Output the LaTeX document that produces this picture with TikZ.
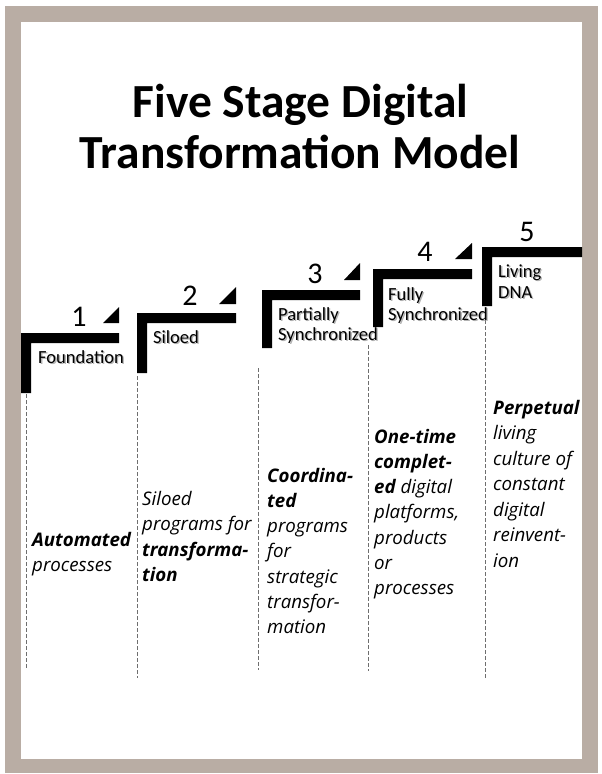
\documentclass[tikz,border=0pt]{standalone}
\usepackage{fontspec}
\newfontfamily\calib{Carlito}
\newfontfamily\opens{Open Sans}
\definecolor{framegray}{HTML}{B9ADA4}
\definecolor{guidegray}{HTML}{6E6E6E}
\tikzset{
  stepbar/.style={fill=black},
  steptri/.style={fill=black},
  titletext/.style={font=\calib\bfseries\fontsize{47.5}{52}\selectfont, inner sep=0pt, anchor=base},
  numtext/.style={font=\calib\fontsize{30}{34}\selectfont, inner sep=0pt, anchor=base},
  lbl/.style={font=\calib\fontsize{18.5}{20}\selectfont, inner sep=0pt, anchor=base west},
  desc/.style={font=\opens\itshape\fontsize{18.7}{25}\selectfont, inner sep=0pt, anchor=base west},
  guide/.style={draw=guidegray, line width=0.8pt, dash pattern=on 3.5pt off 2.5pt}
}
\newcommand\shadowed[1]{\rlap{\raisebox{-1.7pt}{\hspace{1.3pt}\textcolor{black!30}{#1}}}#1}
\newcommand\steplabel[4]{\node[lbl] (#1) at (#2,#3) {\shadowed{#4}};}
\begin{document}
\begin{tikzpicture}[x=1pt,y=-1pt]
\useasboundingbox (0,0) rectangle (602,774);
% frame
\fill[framegray] (5,6) rectangle (598,773);
\fill[white] (21,22) rectangle (582,759);
% title
\node[titletext] (t1) at (300.5,117) {Five Stage Digital};
\node[titletext] (t2) at (300,168) {Transformation Model};
% guides
\draw[guide] (26.5,394) -- (26.5,669);
\draw[guide] (137.5,376) -- (137.5,678);
\draw[guide] (258.5,368) -- (258.5,670);
\draw[guide] (368,345) -- (368,671);
\draw[guide] (485,320) -- (485,678);
% step brackets
\fill[stepbar] (21,393) -- (21,333) -- (119,333) -- (119,343) -- (31,343) -- (31,393) -- cycle;
\fill[stepbar] (137,373) -- (137,313) -- (236,313) -- (236,323) -- (147,323) -- (147,373) -- cycle;
\fill[stepbar] (262,348) -- (262,290) -- (360,290) -- (360,300) -- (272,300) -- (272,348) -- cycle;
\fill[stepbar] (373,327) -- (373,269) -- (472,269) -- (472,279) -- (383,279) -- (383,327) -- cycle;
\fill[stepbar] (482,306) -- (482,247) -- (582,247) -- (582,257) -- (492,257) -- (492,306) -- cycle;
% triangles
\fill[steptri] (103,323) -- (119,323) -- (119,307) -- cycle;
\fill[steptri] (219,304) -- (236,304) -- (236,287) -- cycle;
\fill[steptri] (344,280) -- (360,280) -- (360,263) -- cycle;
\fill[steptri] (455,259) -- (472,259) -- (472,243) -- cycle;
% numbers
\node[numtext] (n1) at (79,326) {1};
\node[numtext] (n2) at (190,305) {2};
\node[numtext] (n3) at (315,283) {3};
\node[numtext] (n4) at (425,261) {4};
\node[numtext] (n5) at (527,241) {5};
% step labels
\steplabel{l1}{38}{363}{Foundation}
\steplabel{l2}{153}{343}{Siloed}
\steplabel{l3a}{278}{320}{Partially}
\steplabel{l3b}{278}{340}{Synchronized}
\steplabel{l4a}{388}{300}{Fully}
\steplabel{l4b}{388}{320}{Synchronized}
\steplabel{l5a}{498}{277}{Living}
\steplabel{l5b}{498}{298}{DNA}
% descriptions
\foreach \t [count=\i] in {{\bfseries Automated},{processes}}
  \node[desc] (c1-\i) at (32,546+25.3*\i-25.3) {\t};
\foreach \t [count=\i] in {{Siloed},{programs for},{\bfseries transforma-},{\bfseries tion}}
  \node[desc] (c2-\i) at (142,505+25.5*\i-25.5) {\t};
\foreach \t [count=\i] in {{\bfseries Coordina-},{\bfseries ted},{programs},{for},{strategic},{transfor-},{mation}}
  \node[desc] (c3-\i) at (267,482+25.3*\i-25.3) {\t};
\foreach \t [count=\i] in {{\bfseries One-time},{\bfseries complet-},{{\bfseries ed} digital},{platforms,},{products},{or},{processes}}
  \node[desc] (c4-\i) at (374,443+25.3*\i-25.3) {\t};
\foreach \t [count=\i] in {{\bfseries Perpetual},{living},{culture of},{constant},{digital},{reinvent-},{ion}}
  \node[desc] (c5-\i) at (493,414+25.5*\i-25.5) {\t};
\end{tikzpicture}
\end{document}
